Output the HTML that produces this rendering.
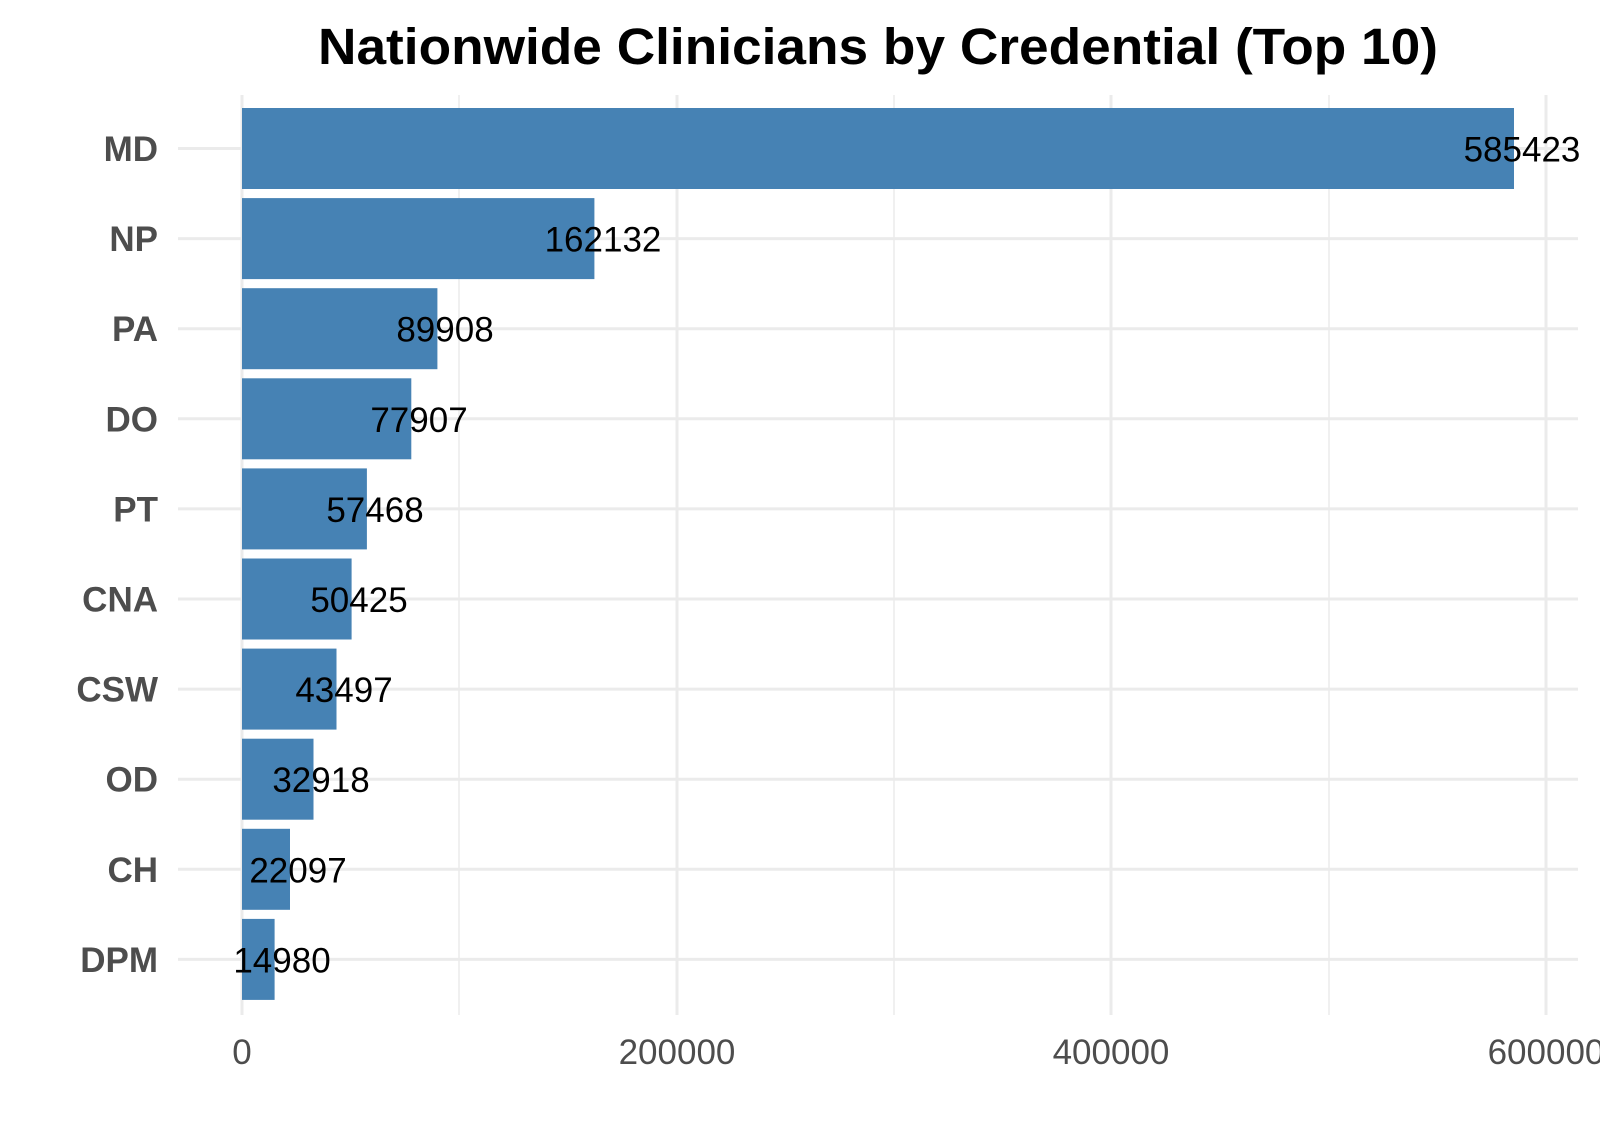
<!DOCTYPE html>
<html><head><meta charset="utf-8"><style>html,body{margin:0;padding:0;background:#fff}</style></head>
<body>
<svg width="1600" height="1143" viewBox="0 0 1600 1143" xmlns="http://www.w3.org/2000/svg" font-family="Liberation Sans, Arial, sans-serif">
<rect width="1600" height="1143" fill="#fff"/>
<text x="878" y="64" font-size="51" font-weight="bold" text-anchor="middle" textLength="1120" lengthAdjust="spacingAndGlyphs" fill="#000">Nationwide Clinicians by Credential (Top 10)</text>
<g stroke="#ebebeb">
<line x1="459" y1="95" x2="459" y2="1015" stroke-width="1.5"/>
<line x1="894" y1="95" x2="894" y2="1015" stroke-width="1.5"/>
<line x1="1329" y1="95" x2="1329" y2="1015" stroke-width="1.5"/>
<line x1="242" y1="95" x2="242" y2="1015" stroke-width="3"/>
<line x1="677" y1="95" x2="677" y2="1015" stroke-width="3"/>
<line x1="1111" y1="95" x2="1111" y2="1015" stroke-width="3"/>
<line x1="1546" y1="95" x2="1546" y2="1015" stroke-width="3"/>
<g stroke-width="3">
<line x1="178" y1="148.5" x2="1578" y2="148.5"/>
<line x1="178" y1="238.6" x2="1578" y2="238.6"/>
<line x1="178" y1="328.7" x2="1578" y2="328.7"/>
<line x1="178" y1="418.8" x2="1578" y2="418.8"/>
<line x1="178" y1="508.9" x2="1578" y2="508.9"/>
<line x1="178" y1="599" x2="1578" y2="599"/>
<line x1="178" y1="689.1" x2="1578" y2="689.1"/>
<line x1="178" y1="779.2" x2="1578" y2="779.2"/>
<line x1="178" y1="869.3" x2="1578" y2="869.3"/>
<line x1="178" y1="959.4" x2="1578" y2="959.4"/>
</g></g>
<g fill="#4682b4">
<rect x="242" y="108" width="1272" height="81"/>
<rect x="242" y="198.1" width="352.4" height="81"/>
<rect x="242" y="288.2" width="195.4" height="81"/>
<rect x="242" y="378.3" width="169.3" height="81"/>
<rect x="242" y="468.4" width="124.9" height="81"/>
<rect x="242" y="558.5" width="109.6" height="81"/>
<rect x="242" y="648.6" width="94.5" height="81"/>
<rect x="242" y="738.7" width="71.5" height="81"/>
<rect x="242" y="828.8" width="48" height="81"/>
<rect x="242" y="918.9" width="32.6" height="81"/>
</g>
<g font-size="35" fill="#000" text-anchor="middle">
<text x="1522" y="161.5">585423</text>
<text x="603" y="251.6">162132</text>
<text x="445" y="341.7">89908</text>
<text x="419" y="431.8">77907</text>
<text x="375" y="521.9">57468</text>
<text x="359" y="612">50425</text>
<text x="344" y="702.1">43497</text>
<text x="321" y="792.2">32918</text>
<text x="298" y="882.3">22097</text>
<text x="282" y="972.4">14980</text>
</g>
<g font-size="35" font-weight="bold" fill="#4d4d4d" text-anchor="end">
<text x="158" y="161">MD</text>
<text x="158" y="251.1">NP</text>
<text x="158" y="341.2">PA</text>
<text x="158" y="431.3">DO</text>
<text x="158" y="521.4">PT</text>
<text x="158" y="611.5">CNA</text>
<text x="158" y="701.6">CSW</text>
<text x="158" y="791.7">OD</text>
<text x="158" y="881.8">CH</text>
<text x="158" y="971.9">DPM</text>
</g>
<g font-size="35" fill="#4d4d4d" text-anchor="middle">
<text x="242" y="1064">0</text>
<text x="677" y="1064">200000</text>
<text x="1111" y="1064">400000</text>
<text x="1546" y="1064">600000</text>
</g>
</svg>
</body></html>
